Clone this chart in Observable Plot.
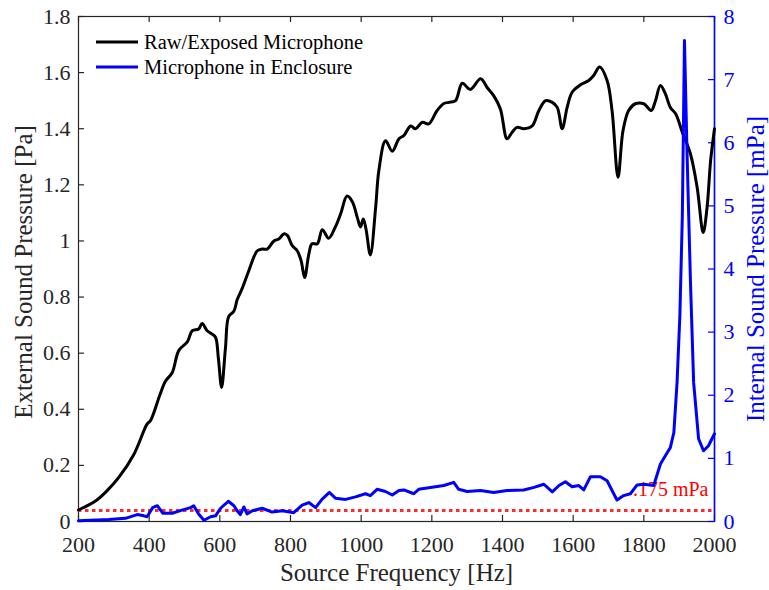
<!DOCTYPE html>
<html>
<head>
<meta charset="utf-8">
<script src="https://cdn.jsdelivr.net/npm/d3@7"></script>
<script src="https://cdn.jsdelivr.net/npm/@observablehq/plot@0.6"></script>
<style>
  html, body { margin: 0; padding: 0; background: white; }
</style>
</head>
<body>
<div id="chart"></div>
<script>
// ---- data ----
const extFreq = [200,250,281,314,357,394,404,430,446,465,484,508,522,540,550,564,578,588,596,605,616,625,640,649,663,682,706,720,734,753,767,781,791,805,819,830,840,852,861,876,890,908,927,942,960,975,989,998,1006,1014,1026,1041,1050,1069,1088,1107,1121,1140,1154,1173,1191,1215,1234,1248,1267,1286,1309,1338,1357,1375,1394,1413,1427,1441,1460,1484,1503,1522,1541,1555,1569,1583,1597,1621,1644,1658,1675,1696,1710,1727,1741,1757,1776,1800,1821,1833,1847,1861,1875,1890,1909,1932,1951,1968,1979,1989,2000];
const extPa = [0.041,0.075,0.11,0.157,0.24,0.347,0.36,0.45,0.50,0.53,0.61,0.64,0.68,0.686,0.706,0.68,0.668,0.656,0.58,0.478,0.62,0.73,0.75,0.79,0.83,0.894,0.965,0.971,0.971,1.0,1.007,1.025,1.02,0.983,0.965,0.93,0.87,0.954,0.99,0.99,1.04,1.01,1.05,1.097,1.16,1.14,1.084,1.05,1.078,1.04,0.95,1.12,1.25,1.357,1.32,1.364,1.376,1.41,1.40,1.423,1.417,1.465,1.49,1.494,1.50,1.562,1.54,1.578,1.546,1.518,1.47,1.364,1.387,1.405,1.40,1.41,1.465,1.50,1.494,1.476,1.40,1.476,1.53,1.557,1.572,1.59,1.62,1.572,1.465,1.227,1.393,1.465,1.489,1.489,1.465,1.50,1.554,1.524,1.476,1.453,1.387,1.31,1.19,1.03,1.12,1.286,1.40];

const intFreq = [200,286,333,366,385,394,401,410,423,439,465,493,517,526,540,555,574,588,602,624,640,649,658,668,677,692,720,748,777,809,833,852,871,889,910,927,956,984,1012,1026,1045,1069,1088,1107,1121,1149,1163,1196,1234,1262,1276,1300,1338,1375,1413,1460,1489,1517,1541,1560,1578,1597,1616,1630,1649,1677,1696,1713,1724,1743,1762,1781,1800,1828,1847,1866,1875,1885,1894,1902,1909,1915,1922,1932,1941,1955,1969,1983,2000];
const intMPa = [0.01,0.03,0.05,0.11,0.09,0.075,0.14,0.22,0.25,0.13,0.13,0.18,0.22,0.25,0.12,0.02,0.075,0.09,0.21,0.32,0.25,0.17,0.11,0.23,0.12,0.17,0.21,0.15,0.17,0.14,0.26,0.30,0.22,0.35,0.46,0.37,0.35,0.39,0.44,0.41,0.51,0.475,0.42,0.49,0.50,0.44,0.51,0.54,0.57,0.62,0.51,0.475,0.49,0.46,0.49,0.50,0.54,0.59,0.47,0.57,0.63,0.55,0.57,0.50,0.71,0.71,0.645,0.46,0.34,0.41,0.44,0.58,0.59,0.57,0.91,1.09,1.17,1.41,2.2,3.26,4.85,7.62,5.9,3.79,2.2,1.31,1.12,1.2,1.39];

const thresholdMPa = [0.175];
const xTicks = [200,400,600,800,1000,1200,1400,1600,1800,2000];
const yLeftTicks = [0,0.2,0.4,0.6,0.8,1,1.2,1.4,1.6,1.8];
const yRightTicks = [0,1,2,3,4,5,6,7,8];
const seriesNames = ["Raw/Exposed Microphone", "Microphone in Enclosure"];
const seriesColors = ["#000000", "#0000ff"];
const xTitle = "Source Frequency [Hz]";
const yLeftTitle = "External Sound Pressure [Pa]";
const yRightTitle = "Internal Sound Pressure [mPa]";

// ---- build ----
const leftMax = 1.8, rightMax = 8;
const k = leftMax / rightMax; // mPa -> left-axis units
const ext = extFreq.map((f, i) => ({f, v: extPa[i]}));
const int = intFreq.map((f, i) => ({f, v: intMPa[i] * k}));

const W = 769, H = 590;
const mL = 78, mR = 55, mT = 16, mB = 69;
const fw = W - mL - mR, fh = H - mT - mB;
const axisColor = "#262626";
const font = "'Liberation Serif', 'Times New Roman', serif";
const tickFs = 22, titleFs = 25;

const svg = Plot.plot({
  width: W, height: H,
  marginLeft: mL, marginRight: mR, marginTop: mT, marginBottom: mB,
  style: {fontFamily: font, fontSize: tickFs + "px", background: "white", color: axisColor},
  x: {domain: [200, 2000]},
  y: {domain: [0, leftMax]},
  marks: [
    Plot.frame({stroke: axisColor, strokeWidth: 1.2}),
    // inward ticks
    Plot.tickX(xTicks, {x: d => d, insetTop: fh - 6, stroke: axisColor, strokeWidth: 1.2}),
    Plot.tickX(xTicks, {x: d => d, insetBottom: fh - 6, stroke: axisColor, strokeWidth: 1.2}),
    Plot.tickY(yLeftTicks, {y: d => d, insetRight: fw - 6, stroke: axisColor, strokeWidth: 1.2}),
    Plot.tickY(yRightTicks, {y: d => d * k, insetLeft: fw - 6, stroke: seriesColors[1], strokeWidth: 1.2}),
    Plot.ruleX([2000], {stroke: seriesColors[1], strokeWidth: 1.5}),
    Plot.axisX({ticks: xTicks, tickSize: 0, tickPadding: 15, tickFormat: d => String(d),
      fontSize: tickFs, fill: axisColor, label: null}),
    Plot.axisY({ticks: yLeftTicks, tickSize: 0, tickPadding: 8, tickFormat: d => String(+d.toFixed(1)),
      fontSize: tickFs, fill: axisColor, label: null}),
    Plot.axisY({anchor: "right", ticks: yRightTicks.map(v => v * k), tickSize: 0, tickPadding: 9,
      tickFormat: d => String(Math.round(d / k)), fill: seriesColors[1], fontSize: tickFs, label: null}),
    // axis titles
    Plot.text([xTitle], {text: d => d, frameAnchor: "bottom", dy: 59, lineAnchor: "bottom",
      textAnchor: "middle", fontSize: titleFs, fill: axisColor}),
    Plot.text([yLeftTitle], {text: d => d, frameAnchor: "left", dx: -64, dy: 3, rotate: -90, lineAnchor: "top",
      textAnchor: "middle", fontSize: titleFs, fill: axisColor}),
    Plot.text([yRightTitle], {text: d => d, frameAnchor: "right", dx: 49, rotate: -90, lineAnchor: "bottom",
      textAnchor: "middle", fontSize: titleFs, fill: seriesColors[1]}),
    // threshold
    Plot.ruleY(thresholdMPa, {y: d => d * k, stroke: "#ff2b2b", strokeWidth: 3, strokeDasharray: "3.5,3.5"}),
    Plot.text(thresholdMPa, {text: d => "." + String(d).split(".")[1] + " mPa", frameAnchor: "bottom-right",
      dx: -6, dy: -26, fill: "#ff0000", fontSize: 20, textAnchor: "end"}),
    // series
    Plot.line(ext, {x: "f", y: "v", stroke: seriesColors[0], strokeWidth: 3, curve: "catmull-rom"}),
    Plot.line(int, {x: "f", y: "v", stroke: seriesColors[1], strokeWidth: 3, curve: "linear"})
  ]
});

// legend inside top-left of the frame
const lg = d3.select(svg).append("g").attr("font-family", font).attr("font-size", 20.5)
  .attr("text-anchor", "start");
seriesNames.forEach((name, i) => {
  const y = 42 + i * 25;
  lg.append("line").attr("x1", 96).attr("x2", 138).attr("y1", y).attr("y2", y)
    .attr("stroke", seriesColors[i]).attr("stroke-width", 3);
  lg.append("text").attr("x", 144).attr("y", y).attr("dy", "0.33em").attr("fill", "#000").text(name);
});

document.getElementById("chart").appendChild(svg);
</script>
</body>
</html>
